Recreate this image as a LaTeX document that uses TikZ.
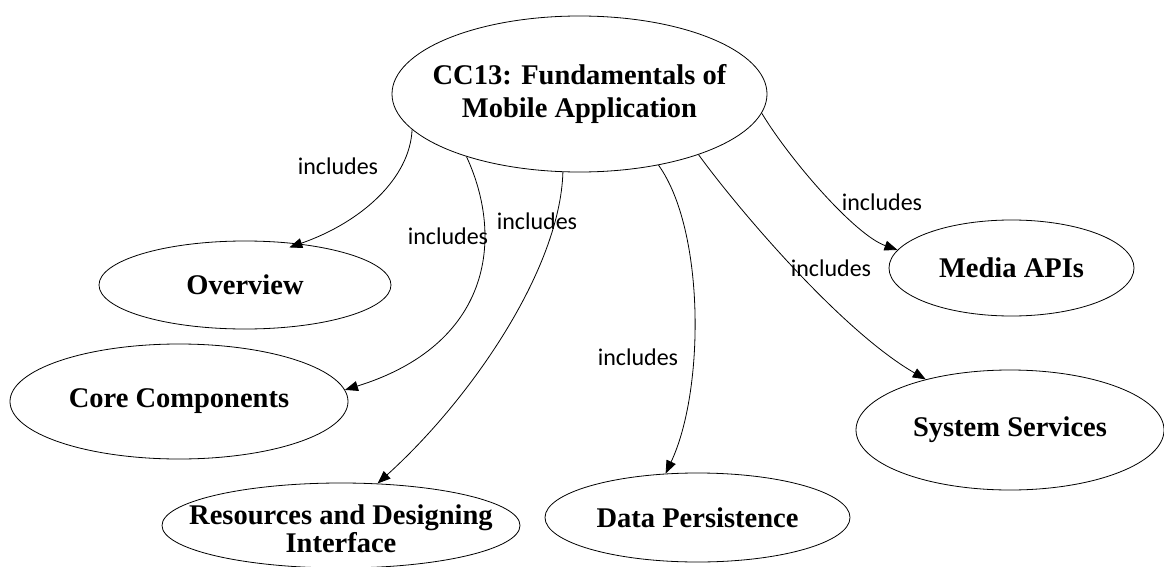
\documentclass[tikz,border=0pt]{standalone}
\usepackage{fontspec}
\setmainfont{Liberation Serif}
\newfontfamily\lblfont{Carlito}
\usetikzlibrary{shapes.geometric,arrows.meta}

\tikzset{
  oval/.style={ellipse, draw=black, line width=0.8pt, inner sep=0pt},
  ovaltext/.style={font=\fontsize{28.5}{30}\selectfont\bfseries, align=center, inner sep=0pt},
  rel/.style={draw=black, line width=0.8pt, -{Triangle[length=13pt,width=10pt]}},
  tag/.style={font=\lblfont\fontsize{24}{26}\selectfont, inner sep=0pt}
}

\begin{document}
\begin{tikzpicture}[x=1pt,y=1pt]
\useasboundingbox (0,0) rectangle (1164,-567);

% concepts
\node[oval, minimum width=375pt, minimum height=156pt,
      label={[ovaltext, font=\fontsize{28.5}{33}\selectfont\bfseries]center:CC13: Fundamentals of\\Mobile Application}] (top) at (579.5,-94) {};
\node[oval, minimum width=292pt, minimum height=88pt,
      label={[ovaltext]center:Overview}] (ov) at (245,-285) {};
\node[oval, minimum width=338pt, minimum height=115pt,
      label={[ovaltext]center:Core Components}] (cc) at (179,-401.5) {};
\node[oval, minimum width=358pt, minimum height=85pt,
      label={[ovaltext, font=\fontsize{28.5}{27.5}\selectfont\bfseries, yshift=-3pt]center:Resources and Designing\\Interface}] (rd) at (341,-525.5) {};
\node[oval, minimum width=305pt, minimum height=89pt,
      label={[ovaltext]center:Data Persistence}] (dp) at (697.5,-517.5) {};
\node[oval, minimum width=308pt, minimum height=120pt,
      label={[ovaltext]center:System Services}] (ss) at (1010,-430) {};
\node[oval, minimum width=245pt, minimum height=96pt,
      label={[ovaltext]center:Media APIs}] (ma) at (1011.5,-268) {};

% relations
\draw[rel, shorten >=-11pt] (top.192.1) .. controls (410,-178) and (362,-222) .. (ov.37.7);
\draw[rel] (top.209.9) .. controls (505,-240) and (490,-345) .. (cc.4);
\draw[rel] (top.258) .. controls (560,-270) and (470,-400) .. (rd.49.1);
\draw[rel] (top.318.1) .. controls (705,-230) and (705,-390) .. (dp.126.8);
\draw[rel] (top.333.5) .. controls (735,-205) and (840,-330) .. (ss.149.5);
\draw[rel] (top.354.4) .. controls (790,-160) and (855,-235) .. (ma.171);

% relation labels
\node[tag] (l1) at (338,-166) {includes};
\node[tag] (l2) at (448,-236) {includes};
\node[tag] (l3) at (537,-221) {includes};
\node[tag] (l4) at (638,-357) {includes};
\node[tag] (l5) at (831,-268) {includes};
\node[tag] (l6) at (882,-202) {includes};
\end{tikzpicture}
\end{document}
